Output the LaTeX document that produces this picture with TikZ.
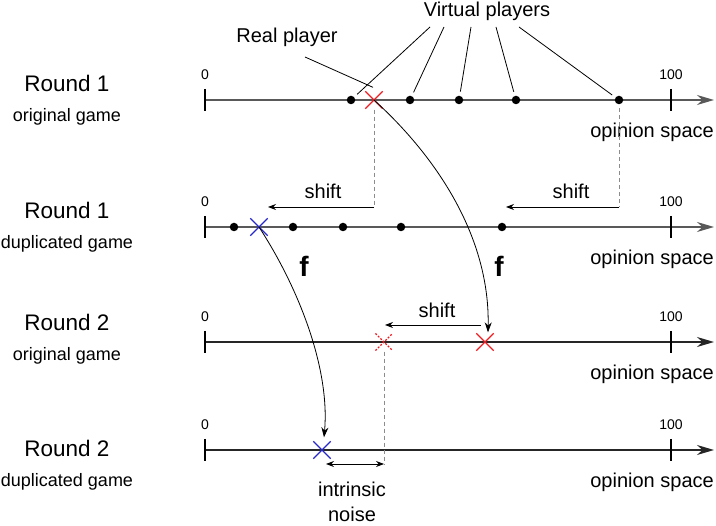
\documentclass[tikz,border=0pt]{standalone}
\usepackage{fontspec}
\setmainfont{Liberation Sans}
\usetikzlibrary{arrows.meta,shapes.misc}
\definecolor{xred}{RGB}{232,30,35}
\definecolor{xblue}{RGB}{40,40,200}
\begin{document}
\begin{tikzpicture}[x=1pt,y=-1pt,
  txt/.style={font=\fontsize{20}{25}\selectfont, inner sep=0pt},
  subtxt/.style={font=\fontsize{18}{22}\selectfont, inner sep=0pt},
  bigtxt/.style={font=\fontsize{22.5}{27}\selectfont, inner sep=0pt},
  smalltxt/.style={font=\fontsize{14}{16}\selectfont, inner sep=0pt},
  ftxt/.style={font=\fontsize{28}{30}\selectfont\bfseries, inner sep=0pt},
  tickline/.style={line width=1.8pt, draw=black},
  dot/.style={circle, fill=black, inner sep=0pt, minimum size=8.5pt},
  xmark/.style={cross out, draw=#1, line width=1.3pt, inner sep=0pt, minimum size=16pt},
  ptr/.style={draw=black, line width=0.8pt},
  dashline/.style={draw=black!45, line width=1pt, dash pattern=on 4pt off 3pt},
  shiftarrow/.style={draw=black, line width=0.8pt, -{Stealth[length=8pt,width=6pt]}},
  curvearrow/.style={draw=black, line width=0.8pt, -{Stealth[length=10pt,width=7pt]}}
]
\useasboundingbox (0,0) rectangle (716,526);

% axes
\foreach \r/\y/\c in {1/100/black!65, 2/227/black!65, 3/342/black!85, 4/450/black!85}{
  \coordinate (s\r) at (205,\y);
  \coordinate (t\r) at (714,\y);
  \draw[line width=1.6pt, draw=\c, -{Stealth[length=17pt,width=10pt]}] (s\r) -- (t\r);
  \draw[tickline] (205,\y-11) -- (205,\y+11);
  \draw[tickline] (671,\y-11) -- (671,\y+11);
  \node[smalltxt] (zero\r) at (205,\y-25) {0};
  \node[smalltxt] (hund\r) at (671,\y-25) {100};
  \node[txt, anchor=east] (os\r) at (714,\y+32) {opinion space};
}

% left labels
\node[bigtxt] (l1a) at (67,83) {Round 1};
\node[subtxt] (l1b) at (67,117) {original game};
\node[bigtxt] (l2a) at (67,210) {Round 1};
\node[subtxt] (l2b) at (67,244) {duplicated game};
\node[bigtxt] (l3a) at (67,322) {Round 2};
\node[subtxt] (l3b) at (67,356) {original game};
\node[bigtxt] (l4a) at (67,448) {Round 2};
\node[subtxt] (l4b) at (67,482) {duplicated game};

% row 1
\node[dot] (v1) at (351,100) {};
\node[dot] (v2) at (410,100) {};
\node[dot] (v3) at (459,100) {};
\node[dot] (v4) at (516,100) {};
\node[dot] (v5) at (619,100) {};
\node[xmark=xred] (r1) at (374,100) {};

\node[txt] (vp) at (487,11) {Virtual players};
\node[txt] (rp) at (287,37) {Real player};
\coordinate (vpa1) at (430,27);
\coordinate (vpa2) at (444,27);
\coordinate (vpa3) at (471,27);
\coordinate (vpa4) at (496,27);
\coordinate (vpa5) at (519,27);
\foreach \i in {1,...,5}{
  \draw[ptr, shorten >=4pt] (vpa\i) -- (v\i);
}
\coordinate (rpa) at (305,57);
\draw[ptr] (rpa) -- ([xshift=-1pt,yshift=4pt]r1.north);

% shifts to row 2
\coordinate (sa1) at (374,207);
\coordinate (sa2) at (268,207);
\coordinate (sb1) at (619,207);
\coordinate (sb2) at (506,207);
\draw[dashline] ([yshift=-1pt]r1.south) -- (sa1);
\draw[dashline] ([yshift=-4pt]v5.south) -- (sb1);
\draw[shiftarrow] (sa1) -- (sa2);
\draw[shiftarrow] (sb1) -- (sb2);
\node[txt] (sh1) at (323,191) {shift};
\node[txt] (sh2) at (571,191) {shift};

% row 2
\node[dot] (w1) at (234,227) {};
\node[dot] (w2) at (293,227) {};
\node[dot] (w3) at (343,227) {};
\node[dot] (w4) at (401,227) {};
\node[dot] (w5) at (502,227) {};
\node[xmark=xblue] (b2) at (259,227) {};
\node[ftxt] (f1) at (304,266) {f};
\node[ftxt] (f2) at (499,266) {f};

% row 3
\node[xmark=xred] (r3) at (485,342) {};
\node[cross out, draw=xred, line width=1.1pt, inner sep=0pt, minimum size=16pt, dash pattern=on 2pt off 1.5pt] (d3) at (384,342) {};
\coordinate (sc1) at (481,325);
\coordinate (sc2) at (385,325);
\draw[shiftarrow] (sc1) -- (sc2);
\node[txt] (sh3) at (437,310) {shift};

% row 4
\node[xmark=xblue] (b4) at (322,450) {};
\coordinate (na) at (326,464);
\coordinate (nb) at (384,464);
\draw[dashline] ([yshift=-1pt]d3.south) -- (nb);
\draw[draw=black, line width=0.8pt, {Stealth[length=8pt,width=6pt]}-{Stealth[length=8pt,width=6pt]}] (na) -- (nb);
\node[txt, align=center] (noise) at (352,502) {intrinsic\\noise};

% curves
\draw[curvearrow] (r1.center) .. controls (440,160) and (490,240) .. ([xshift=3pt,yshift=1pt]r3.north);
\draw[curvearrow] (b2.center) .. controls (300,290) and (330,370) .. ([xshift=2pt,yshift=4pt]b4.north);
\end{tikzpicture}
\end{document}
